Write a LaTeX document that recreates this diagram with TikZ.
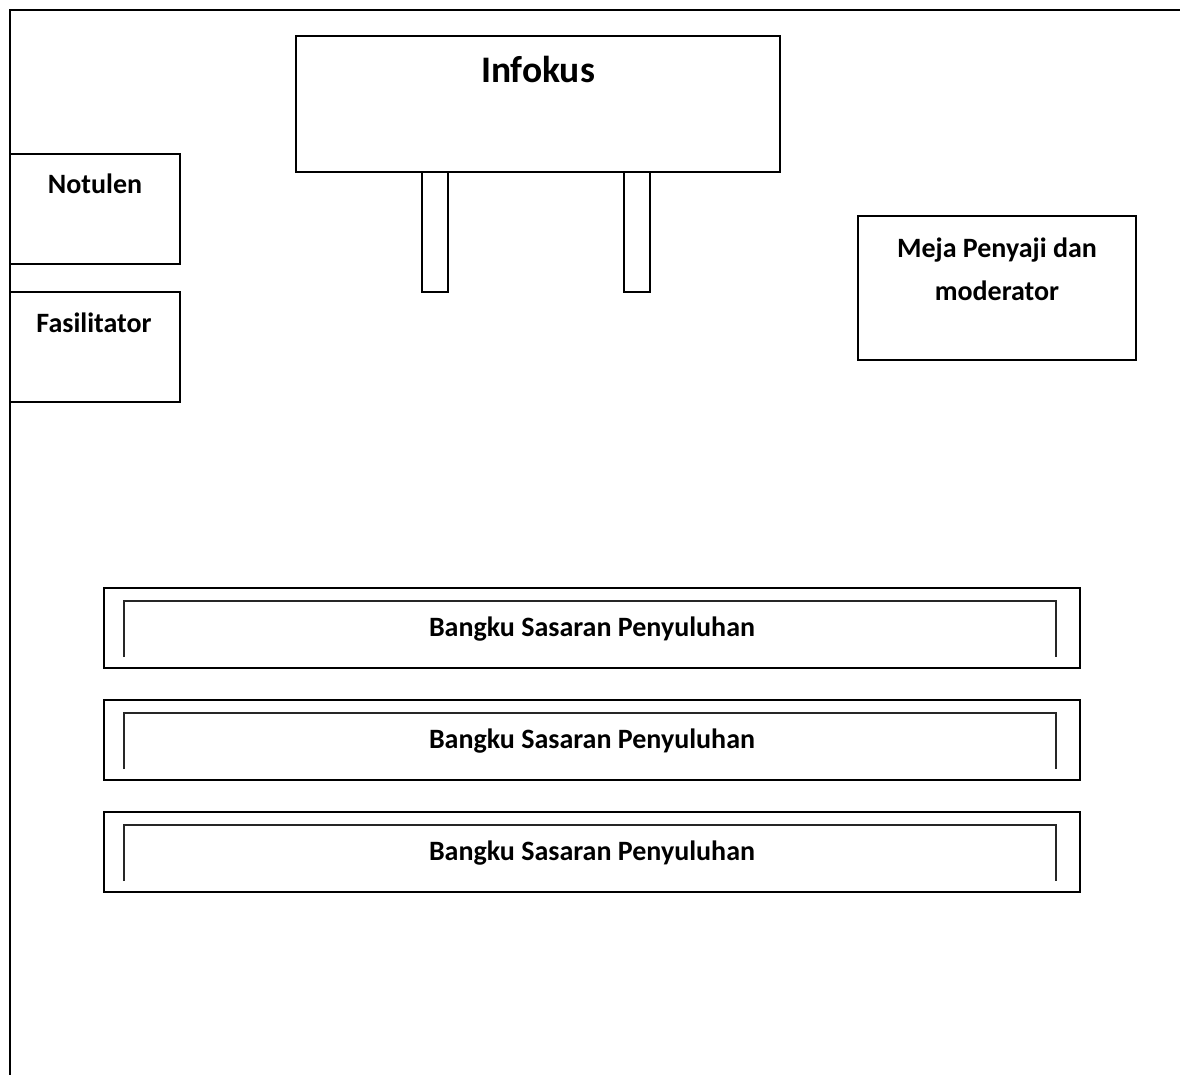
\documentclass[tikz,border=0pt]{standalone}
\usepackage{fontspec}
\setmainfont{Carlito}
\usetikzlibrary{positioning}
\begin{document}
\begin{tikzpicture}[x=1pt,y=-1pt]
   \tikzstyle{box}=[draw,line width=2pt,inner sep=0pt]
   \tikzstyle{lbl}=[anchor=base,font=\bfseries\fontsize{28}{43}\selectfont,align=center]
   \tikzstyle{big}=[anchor=base,font=\bfseries\fontsize{37.5}{43}\selectfont]
   \tikzstyle{rail}=[black!85,line width=1.6pt]

   \useasboundingbox (0,0) rectangle (1180,1075);
   \draw [line width=2pt] (1180,10) -- (10,10) -- (10,1075);

   % screen and its legs
   \node (legl) [box,minimum width=26pt,minimum height=120pt] at (435,232) {};
   \node (legr) [box,minimum width=26pt,minimum height=120pt] at (637,232) {};
   \node (infokus) [box,fill=white,minimum width=484pt,minimum height=136pt] at (538,104) {};
   \node (t-infokus) [big] at (538,83) {Infokus};

   % side tables
   \node (notulen) [box,minimum width=170pt,minimum height=110pt] at (95,209) {};
   \node (t-notulen) [lbl] at (95,194) {Notulen};
   \node (fasil) [box,minimum width=170pt,minimum height=110pt] at (95,347) {};
   \node (t-fasil) [lbl] at (94,332) {Fasilitator};
   \node (meja) [box,minimum width=278pt,minimum height=144pt] at (997,288) {};
   \node (t-meja) [lbl] at (997,300) {Meja Penyaji dan\\moderator};

   % benches
   \foreach \y [count=\i] in {588,700,812} {
      \node (bangku\i) [box,minimum width=976pt,minimum height=80pt] at (592,\y+40) {};
      \draw [rail] (bangku\i.south west) ++(21,-12) |- ++(932,-56) -- ++(0,56);
      \node (t-bangku\i) [lbl] at (592,\y+48) {Bangku Sasaran Penyuluhan};
   }
\end{tikzpicture}
\end{document}
